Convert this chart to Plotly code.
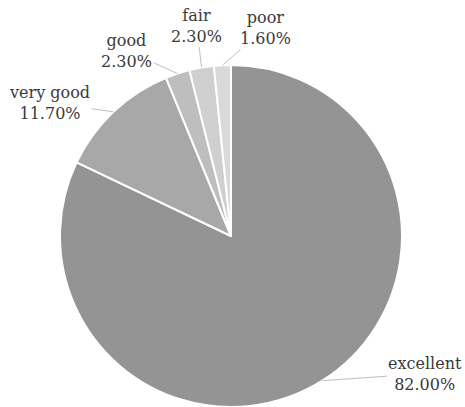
import math
import plotly.graph_objects as go

categories = ["excellent", "very good", "good", "fair", "poor"]
values = [82.0, 11.7, 2.3, 2.3, 1.6]
colors = ["#949494", "#a8a8a8", "#bebebe", "#cfcfcf", "#d9d9d9"]
# label offsets (pixels) from slice edge midpoint to label centre
label_offsets = [(103, -7), (-64, -9), (-51, -23), (-5, -42), (43, -37)]

W, H = 465, 407
dom_x = [60 / W, 402 / W]
dom_y = [0.0, 1 - 65 / H]

fig = go.Figure(go.Pie(
    labels=categories, values=values, sort=False, direction="clockwise",
    rotation=0, marker=dict(colors=colors, line=dict(color="white", width=2)),
    textinfo="none", hoverinfo="label+percent", showlegend=False,
    domain=dict(x=dom_x, y=dom_y),
))

# pie geometry in paper coords (from the domain)
cx = (dom_x[0] + dom_x[1]) / 2
cy = (dom_y[0] + dom_y[1]) / 2
r_px = min((dom_x[1] - dom_x[0]) * W, (dom_y[1] - dom_y[0]) * H) / 2

total = sum(values)
cum = 0
for cat, v, (ox, oy) in zip(categories, values, label_offsets):
    mid = (cum + v / 2) / total * 2 * math.pi
    cum += v
    tx = cx + r_px * math.sin(mid) / W
    ty = cy + r_px * math.cos(mid) / H
    fig.add_annotation(
        x=tx, y=ty, xref="paper", yref="paper",
        text=f"{cat}<br>{v:.2f}%", showarrow=True, arrowhead=0,
        arrowwidth=1, arrowcolor="#bfbfbf", ax=ox, ay=oy,
        font=dict(family="DejaVu Serif", size=16, color="#3a3a3a"),
        align="center",
    )

fig.update_layout(
    width=W, height=H, margin=dict(l=0, r=0, t=0, b=0),
    paper_bgcolor="white", plot_bgcolor="white",
)
fig.write_html("out.html")
